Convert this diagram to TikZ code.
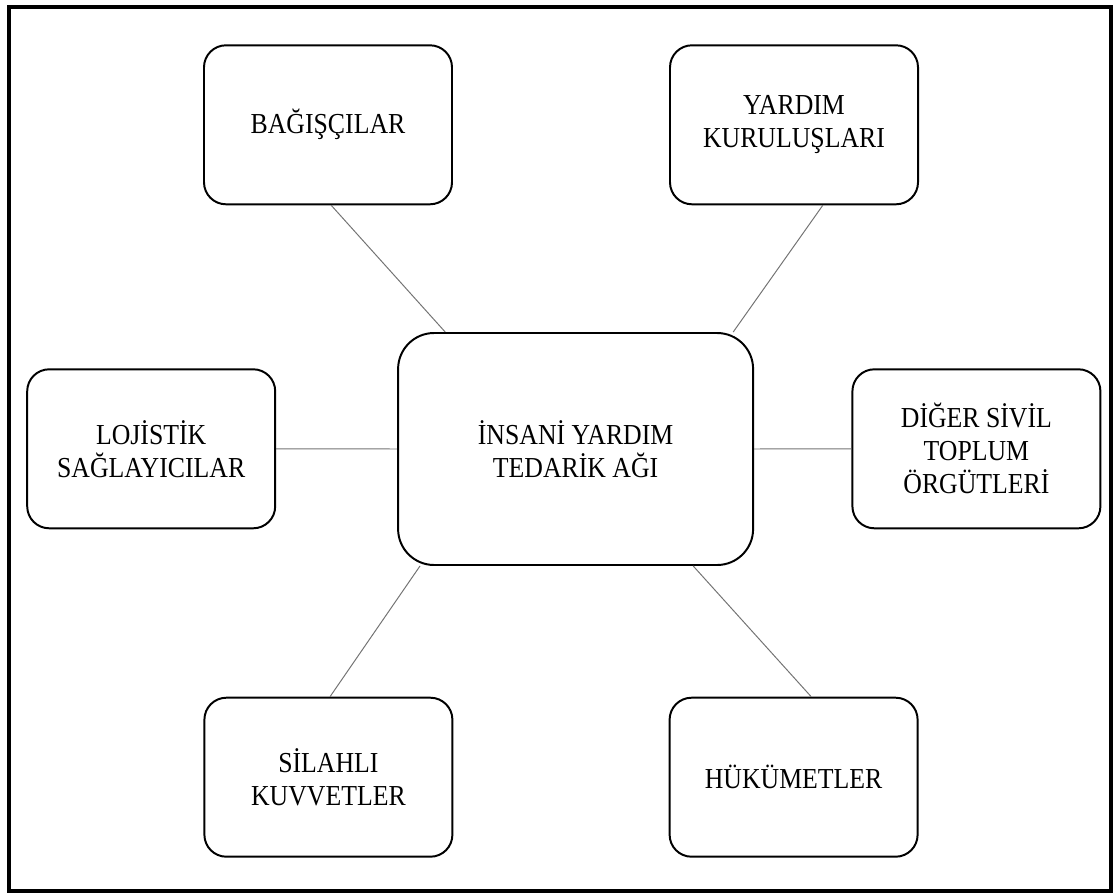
\documentclass[tikz,border=0pt]{standalone}
\usepackage{fontspec}
\setmainfont{Liberation Serif}[FakeStretch=0.89]
\usetikzlibrary{positioning}

\begin{document}
\begin{tikzpicture}[
    actor/.style={draw, line width=1.4pt, rounded corners=0.55cm, minimum width=6.2cm,
      minimum height=3.975cm, align=center, inner sep=0pt,
      font=\fontsize{20.6}{23.5}\selectfont},
    hub/.style={actor, rounded corners=0.9cm, minimum width=8.875cm, minimum height=5.8cm},
    link/.style={black!55, line width=0.7pt}
  ]

  % --- frame ---
  \useasboundingbox (0,0) rectangle (27.925,-22.35);
  \draw[line width=2.2pt] (0.225,-0.175) rectangle (27.775,-22.275);

  % --- central node ---
  \node[hub] (net) at (14.39,-11.225) {İNSANİ YARDIM\\TEDARİK AĞI};

  % --- actors ---
  \node[actor] (donors)    at (8.2,-3.12)    {BAĞIŞÇILAR};
  \node[actor] (aid)       at (19.85,-3.12)  {YARDIM\\KURULUŞLARI};
  \node[actor] (logistics) at (3.78,-11.22)  {LOJİSTİK\\SAĞLAYICILAR};
  \node[actor] (ngo)       at (24.41,-11.22) {DİĞER SİVİL\\TOPLUM\\ÖRGÜTLERİ};
  \node[actor] (army)      at (8.21,-19.43)  {SİLAHLI\\KUVVETLER};
  \node[actor] (gov)       at (19.84,-19.43) {HÜKÜMETLER};

  % --- links ---
  \draw[link] ([xshift=0.08cm]donors.south) -- ([xshift=-3.26cm]net.north);
  \draw[link] ([xshift=0.72cm]aid.south) -- ([xshift=3.94cm]net.north);
  \draw[link] (logistics.east) -- (net.west);
  \draw[link] (ngo.west) -- (net.east);
  \draw[link] ([xshift=0.04cm]army.north) -- ([xshift=-3.89cm]net.south);
  \draw[link] ([xshift=0.44cm]gov.north) -- ([xshift=2.94cm]net.south);

\end{tikzpicture}
\end{document}
